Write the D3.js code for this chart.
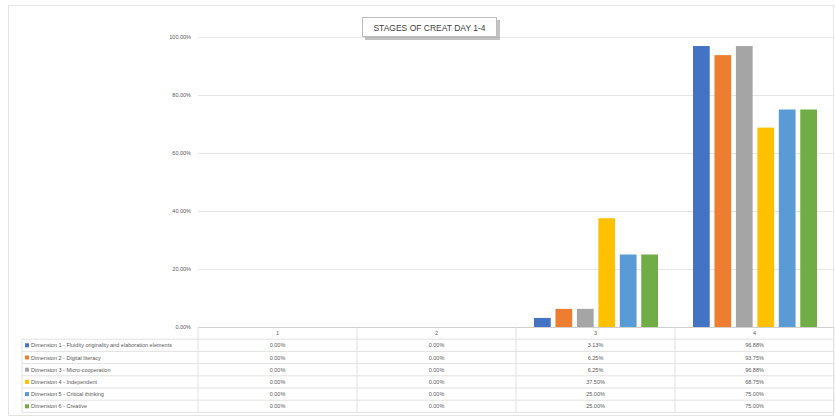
<!DOCTYPE html>
<html><head><meta charset="utf-8">
<script src="https://cdn.jsdelivr.net/npm/d3@7/dist/d3.min.js"></script>
<style>body{margin:0;background:#fff}svg{display:block}</style>
</head><body>
<svg id="c" width="835" height="418"></svg>
<script>
const title = "STAGES OF CREAT DAY 1-4";
const categories = ["1", "2", "3", "4"];
const seriesNames = [
  "Dimension 1 - Fluidity originality and elaboration elements",
  "Dimension 2 - Digital literacy",
  "Dimension 3 - Micro-cooperation",
  "Dimension 4 - Independent",
  "Dimension 5 - Critical thinking",
  "Dimension 6 - Creative"
];
const s1 = [0, 0, 3.13, 96.88];
const s2 = [0, 0, 6.25, 93.75];
const s3 = [0, 0, 6.25, 96.88];
const s4 = [0, 0, 37.50, 68.75];
const s5 = [0, 0, 25.00, 75.00];
const s6 = [0, 0, 25.00, 75.00];
const seriesValues = [s1, s2, s3, s4, s5, s6];
const colors = ["#4472C4", "#ED7D31", "#A5A5A5", "#FFC000", "#5B9BD5", "#70AD47"];
const yTicks = [0, 20, 40, 60, 80, 100];

const svg = d3.select("#c");
const font = "Liberation Sans, Arial, sans-serif";

// outer frame
svg.append("rect").attr("x", 8.5).attr("y", 5.5).attr("width", 825).attr("height", 410)
  .attr("fill", "#fff").attr("stroke", "#e4e4e4");

const x0 = d3.scaleBand().domain(categories).range([198, 834]).paddingInner(0).paddingOuter(0);
const x1 = d3.scaleBand().domain(d3.range(seriesNames.length))
  .range([18, x0.bandwidth() - 17]).paddingInner(0.22);
const y = d3.scaleLinear().domain([0, 100]).range([327, 37]);

// gridlines
svg.append("g").selectAll("line").data(yTicks).join("line")
  .attr("x1", 198).attr("x2", 834)
  .attr("y1", d => Math.round(y(d)) + 0.5).attr("y2", d => Math.round(y(d)) + 0.5)
  .attr("stroke", d => d === 0 ? "#d0d0d0" : "#e6e6e6").attr("stroke-width", 1);

// y axis labels
const yAxis = d3.axisLeft(y).tickValues(yTicks).tickSize(0).tickPadding(0)
  .tickFormat(d => d3.format(".2f")(d) + "%");
const ga = svg.append("g").attr("transform", "translate(191,0)").call(yAxis);
ga.select(".domain").remove();
ga.selectAll("text").attr("font-family", font).attr("font-size", 5.5).attr("fill", "#595959");

// bars
const groups = svg.append("g").selectAll("g").data(categories).join("g")
  .attr("transform", d => `translate(${x0(d)},0)`);
groups.selectAll("rect").data((c, ci) => seriesValues.map((s, si) => ({si, v: s[ci]})))
  .join("rect")
  .attr("x", d => x1(d.si)).attr("width", x1.bandwidth())
  .attr("y", d => y(d.v)).attr("height", d => y(0) - y(d.v))
  .attr("fill", d => colors[d.si]);

// data table
const rowH = 12.2;
const tTop = 327;
const nRows = seriesNames.length + 1;
const tBottom = tTop + rowH * nRows;
const tg = svg.append("g");
// horizontal lines
tg.selectAll("line.h").data(d3.range(1, nRows + 1)).join("line").attr("class", "h")
  .attr("x1", d => d === 0 ? 198 : 22).attr("x2", 834)
  .attr("y1", d => tTop + d * rowH).attr("y2", d => tTop + d * rowH)
  .attr("stroke", "#e2e2e2");
// vertical lines
tg.selectAll("line.v").data(categories.map(c => x0(c)).concat([834])).join("line").attr("class", "v")
  .attr("x1", d => d).attr("x2", d => d)
  .attr("y1", tTop).attr("y2", tBottom).attr("stroke", "#e2e2e2");
tg.append("line").attr("x1", 22).attr("x2", 22).attr("y1", tTop + rowH).attr("y2", tBottom).attr("stroke", "#e2e2e2");
// header
tg.selectAll("text.hd").data(categories).join("text").attr("class", "hd")
  .attr("x", d => x0(d) + x0.bandwidth() / 2).attr("y", tTop + rowH / 2 + 2)
  .attr("text-anchor", "middle").attr("font-family", font).attr("font-size", 5.5).attr("fill", "#595959")
  .text(d => d);
// rows
seriesNames.forEach((name, i) => {
  const cy = tTop + rowH * (i + 1) + rowH / 2;
  tg.append("rect").attr("x", 25).attr("y", cy - 2).attr("width", 4).attr("height", 4).attr("fill", colors[i]);
  tg.append("text").attr("x", 31).attr("y", cy + 2).attr("font-family", font).attr("font-size", 5.5)
    .attr("fill", "#595959").text(name);
  categories.forEach((c, ci) => {
    tg.append("text").attr("x", x0(c) + x0.bandwidth() / 2).attr("y", cy + 2)
      .attr("text-anchor", "middle").attr("font-family", font).attr("font-size", 5.5).attr("fill", "#595959")
      .text(d3.format(".2f")(seriesValues[i][ci]) + "%");
  });
});

// title box with shadow
const tb = svg.append("g");
tb.append("rect").attr("x", 365).attr("y", 20).attr("width", 135).attr("height", 20).attr("fill", "#9a9a9a").attr("opacity", 0.6);
tb.append("rect").attr("x", 362.5).attr("y", 17.5).attr("width", 134).attr("height", 19).attr("fill", "#fff").attr("stroke", "#bdbdbd");
tb.append("text").attr("x", 429.5).attr("y", 30.5).attr("text-anchor", "middle")
  .attr("font-family", font).attr("font-size", 8.5).attr("fill", "#404040").text(title);
</script>
</body></html>
